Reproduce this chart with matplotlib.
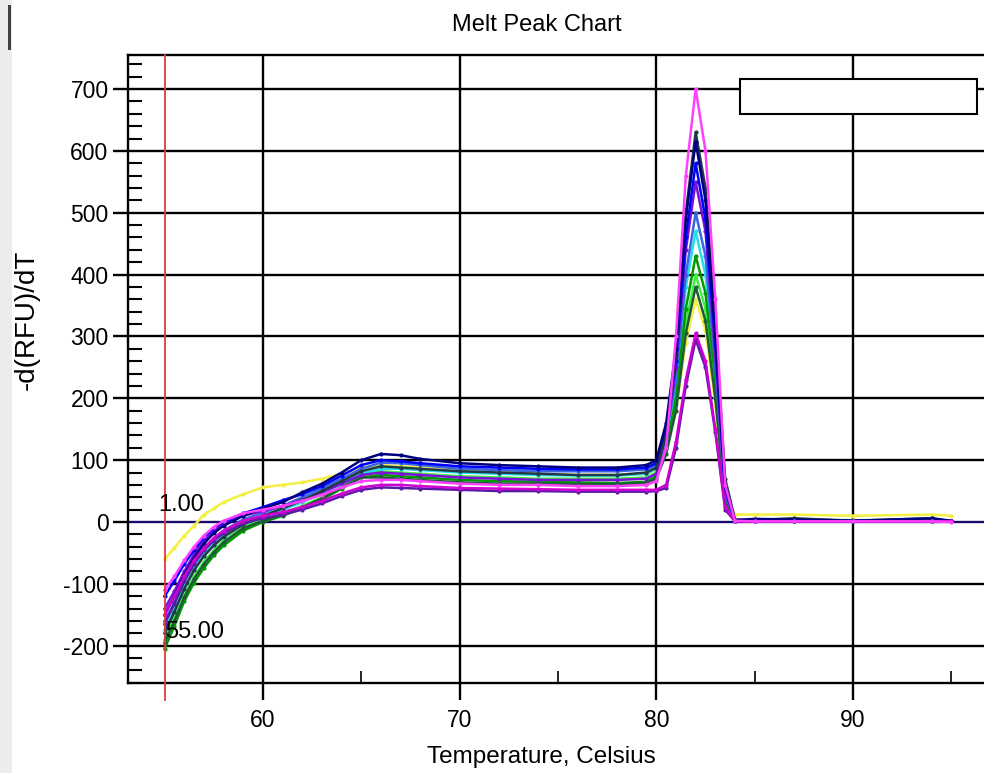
import matplotlib
matplotlib.use("Agg")
import matplotlib.pyplot as plt
from matplotlib.patches import Rectangle
from matplotlib.ticker import MultipleLocator, FixedLocator

plt.rcParams['font.family'] = ['Liberation Sans', 'DejaVu Sans']
plt.rcParams['axes.unicode_minus'] = False

# ---------------- data ----------------
temps = [55.0, 55.5, 56.0, 56.5, 57.0, 57.5, 58.0, 59.0, 60.0, 61.0, 62.0, 63.0, 64.0, 65.0,
         66.0, 67.0, 68.0, 70.0, 72.0, 74.0, 76.0, 78.0, 79.5, 80.0,
         80.5, 81.0, 81.5, 82.0, 82.5, 83.0, 83.5, 84.0,
         85.0, 87.0, 90.0, 94.0, 95.0]

navy = [-150, -120, -85, -58, -35, -18, -6, 10, 22, 32, 48, 62, 80, 100,
        110, 108, 102, 95, 92, 90, 88, 88, 92, 100,
        160, 280, 490, 615, 520, 300, 60, 3,
        5, 4, 2, 6, 2]
blue = [-120, -95, -68, -45, -25, -10, 0, 14, 24, 35, 45, 58, 75, 92,
        100, 98, 95, 90, 88, 86, 85, 85, 88, 95,
        150, 260, 460, 580, 490, 290, 55, 2,
        2, 2, 1, 3, 1]
slate = [-180, -145, -108, -78, -55, -38, -24, -4, 10, 22, 35, 50, 66, 82,
         90, 88, 86, 82, 80, 78, 76, 76, 80, 88,
         140, 270, 500, 630, 540, 320, 70, 4,
         3, 6, 2, 4, 1]
magenta = [-110, -88, -62, -40, -22, -8, 2, 14, 20, 26, 34, 44, 56, 66,
           68, 68, 66, 62, 60, 60, 58, 58, 60, 66,
           120, 300, 560, 700, 600, 360, 60, 2,
           1, 1, 1, 1, 0]
purple = [-140, -112, -80, -52, -30, -14, -3, 10, 18, 26, 36, 48, 62, 76,
          80, 78, 76, 72, 70, 68, 68, 68, 70, 78,
          140, 250, 440, 550, 470, 270, 50, 2,
          1, 1, 1, 2, 1]
steelblue = [-160, -130, -95, -66, -44, -27, -14, 4, 15, 26, 40, 54, 70, 86,
             96, 95, 92, 86, 84, 82, 82, 82, 85, 92,
             140, 230, 400, 500, 430, 250, 45, 2,
             2, 2, 2, 2, 1]
cyan = [-175, -140, -104, -75, -52, -35, -22, -2, 10, 20, 32, 46, 62, 78,
        86, 86, 84, 80, 78, 76, 75, 75, 78, 86,
        130, 215, 380, 470, 400, 240, 40, 2,
        1, 1, 1, 1, 1]
green = [-205, -168, -128, -98, -74, -54, -38, -14, 0, 10, 22, 36, 54, 72,
         76, 74, 72, 68, 66, 65, 64, 63, 65, 74,
         120, 200, 345, 430, 370, 230, 40, 2,
         2, 2, 1, 2, 1]
lime = [-190, -155, -118, -88, -64, -46, -30, -8, 4, 14, 26, 40, 58, 76,
        82, 80, 78, 74, 72, 70, 70, 70, 72, 80,
        120, 190, 320, 400, 345, 210, 35, 3,
        3, 3, 3, 3, 2]
yellow = [-60, -42, -22, -6, 12, 22, 32, 45, 56, 60, 64, 70, 78, 88,
          92, 90, 88, 82, 80, 78, 76, 76, 78, 84,
          120, 180, 290, 360, 310, 190, 40, 12,
          12, 12, 10, 12, 10]
darkgreen = [-195, -160, -122, -92, -68, -49, -33, -10, 2, 12, 24, 38, 56, 72,
             72, 70, 68, 64, 62, 62, 61, 61, 63, 70,
             110, 180, 305, 380, 325, 200, 35, 2,
             4, 5, 2, 6, 1]
magenta2 = [-150, -120, -88, -62, -42, -26, -14, 2, 10, 16, 24, 34, 46, 56,
            60, 60, 58, 55, 54, 53, 52, 52, 52, 52,
            60, 130, 230, 305, 260, 150, 25, 1,
            1, 1, 1, 1, 1]
purple2 = [-165, -132, -96, -68, -46, -30, -18, -2, 6, 12, 20, 30, 42, 52,
           56, 55, 54, 52, 50, 50, 49, 49, 49, 50,
           55, 120, 220, 295, 250, 145, 20, 1,
           1, 1, 1, 1, 1]

series = [
    (yellow, '#f2f040'),
    (lime, '#40f040'),
    (cyan, '#20e0e8'),
    (green, '#009a00'),
    (darkgreen, '#1e5a3a'),
    (steelblue, '#3a66e0'),
    (purple, '#7a10d8'),
    (blue, '#0000ff'),
    (slate, '#203848'),
    (navy, '#000080'),
    (purple2, '#5a1aa8'),
    (magenta2, '#d000d0'),
    (magenta, '#ff40ff'),
]

y_ticks = [-200, -100, 0, 100, 200, 300, 400, 500, 600, 700]
x_ticks = [60, 70, 80, 90]
x_minor = [65, 75, 85, 95]
marker_temp = 55.0
label_top = "1.00"
label_bottom = "55.00"

# ---------------- figure ----------------
W, H = 984, 773
fig = plt.figure(figsize=(W / 100, H / 100), dpi=100)
ax_l, ax_r, ax_t, ax_b = 128, 984, 55, 683
ax = fig.add_axes([ax_l / W, 1 - ax_b / H, (ax_r - ax_l) / W, (ax_b - ax_t) / H])

for vals, col in series:
    ax.plot(temps, vals, color=col, lw=1.8, marker='.', ms=4,
            mec=col, mfc=col, zorder=3)

ax.set_xlim(53.14, 96.66)
ax.set_ylim(-260.3, 755)

# grid
for yv in y_ticks:
    ax.axhline(yv, color='#1a0a6e' if yv == 0 else 'black', lw=1.7, zorder=1)
for xv in x_ticks:
    ax.axvline(xv, color='black', lw=1.7, zorder=1)

# red marker line
ax.axvline(marker_temp, ymin=-0.027, ymax=1, color='#e03a3a', lw=1.3,
           clip_on=False, zorder=4)

ax.set_yticks(y_ticks)
ax.yaxis.set_minor_locator(MultipleLocator(20))
ax.set_xticks(x_ticks)
ax.xaxis.set_minor_locator(FixedLocator(x_minor))
ax.tick_params(axis='y', which='major', direction='out', length=11, width=1.7,
               labelsize=16.5, pad=3)
ax.tick_params(axis='y', which='minor', direction='in', length=10, width=1.5)
ax.tick_params(axis='x', which='major', direction='out', length=12, width=1.7,
               labelsize=16.5, pad=7)
ax.tick_params(axis='x', which='minor', direction='in', length=9, width=1.2)

for s in ['left', 'bottom', 'top']:
    ax.spines[s].set_linewidth(1.7)
ax.spines['right'].set_visible(False)

# annotations
ax.text(54.7, 27, label_top, fontsize=17, ha='left', va='center', zorder=5)
ax.text(55.02, -178, label_bottom, fontsize=17, ha='left', va='center', zorder=5)

# empty legend box
ax.add_patch(Rectangle((0.715, 0.906), 0.277, 0.056, transform=ax.transAxes,
                       facecolor='white', edgecolor='black', lw=1.5, zorder=6))

# titles
fig.text(537 / W, 1 - 25 / H, "Melt Peak Chart", fontsize=17, ha='center', va='center')
fig.text(541 / W, 1 - 757 / H, "Temperature, Celsius", fontsize=17.5, ha='center', va='center')
fig.text(27 / W, 1 - 320 / H, "-d(RFU)/dT", fontsize=20, ha='center', va='center',
         rotation=90)

# left window edge
fig.patches.append(Rectangle((0, 0), 12 / W, 1, transform=fig.transFigure,
                             facecolor='#ececec', edgecolor='none', zorder=0))
fig.patches.append(Rectangle((8 / W, 1 - 50 / H), 3 / W, 45 / H, transform=fig.transFigure,
                             facecolor='#404040', edgecolor='none', zorder=1))

fig.savefig("out.png", dpi=100)
